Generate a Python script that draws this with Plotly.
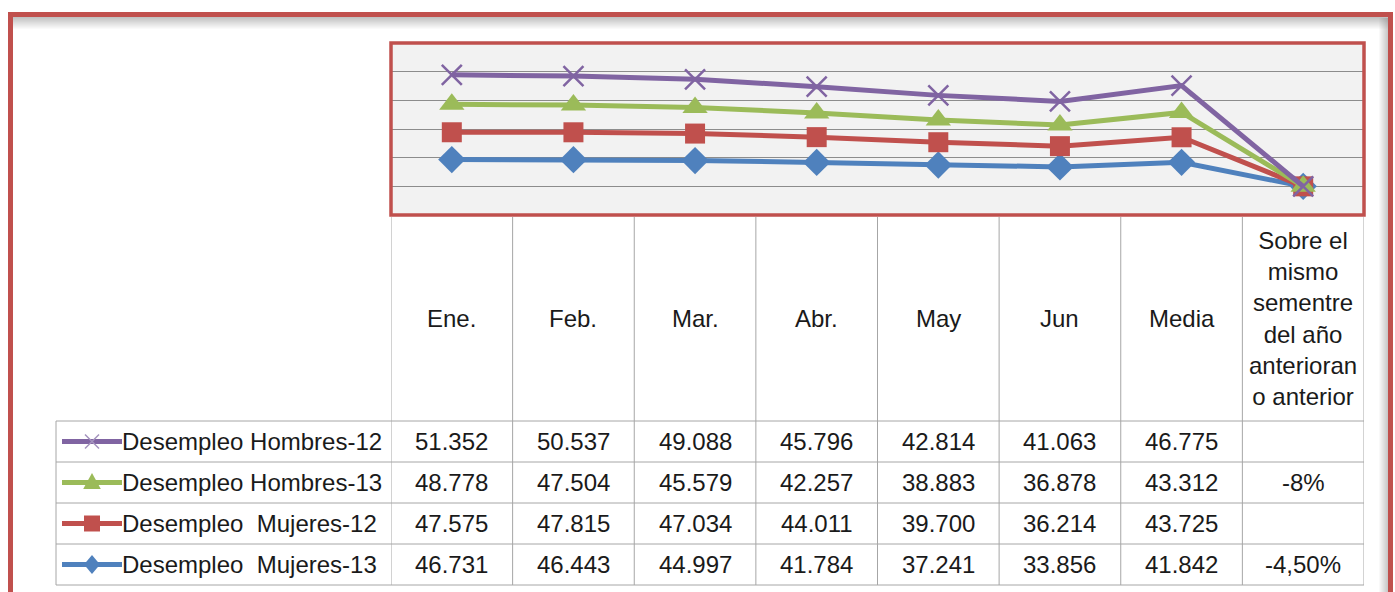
import plotly.graph_objects as go

# ---------------- data ----------------
categorias = ["Ene.", "Feb.", "Mar.", "Abr.", "May", "Jun", "Media",
              "Sobre el<br>mismo<br>sementre<br>del año<br>anterioran<br>o anterior"]
series = ["Desempleo Hombres-12", "Desempleo Hombres-13",
          "Desempleo  Mujeres-12", "Desempleo  Mujeres-13"]
hombres_12 = [51352, 50537, 49088, 45796, 42814, 41063, 46775]
hombres_13 = [48778, 47504, 45579, 42257, 38883, 36878, 43312]
mujeres_12 = [47575, 47815, 47034, 44011, 39700, 36214, 43725]
mujeres_13 = [46731, 46443, 44997, 41784, 37241, 33856, 41842]
variacion = [None, -0.08, None, -0.045]          # last column (fraction)
variacion_txt = ["", "-8%", "", "-4,50%"]

colores = ["#8064A2", "#9BBB59", "#C0504D", "#4F81BD"]
simbolos = ["x-thin", "triangle-up", "square", "diamond"]
tamanos = [20, 22, 20, 21]

valores = [hombres_12, hombres_13, mujeres_12, mujeres_13]

W, H = 1395, 592
def py(p):
    return 1 - p / H
def px(p):
    return p / W

fig = go.Figure()

# stacked lines: bottom series first
for i in [3, 2, 1, 0]:
    ys = valores[i] + [0 if variacion[i] is None else variacion[i]]
    fig.add_trace(go.Scatter(
        x=categorias, y=ys, name=series[i], mode="lines+markers",
        stackgroup="one", fill="none",
        line=dict(color=colores[i], width=5),
        marker=dict(symbol=simbolos[i], size=tamanos[i], color=colores[i],
                    line=dict(color=colores[i], width=2.5 if i == 0 else 0)),
        showlegend=False, hoverinfo="skip"))

PLOT_L, PLOT_R, PLOT_T, PLOT_B = 391, 1364, 43, 215
fig.update_layout(
    width=W, height=H, margin=dict(l=0, r=0, t=0, b=0),
    paper_bgcolor="white", plot_bgcolor="#F2F2F2",
    showlegend=False,
    xaxis=dict(domain=[px(PLOT_L), px(PLOT_R)], type="category",
               range=[-0.5, 7.5], showticklabels=False, showgrid=False,
               zeroline=False, showline=False, ticks=""),
    yaxis=dict(domain=[py(PLOT_B), py(PLOT_T)], range=[-50000, 250000],
               dtick=50000, tick0=0, showticklabels=False, showgrid=True,
               gridcolor="#8C8C8C", gridwidth=1, zeroline=True,
               zerolinecolor="#8C8C8C", zerolinewidth=1, showline=False, ticks=""),
    font=dict(family="Liberation Sans, Arial, sans-serif", color="#1A1A1A"),
)

shapes = []
annots = []
gris = "#A6A6A6"

# table geometry
TAB_TOP = 217
ROWS = [421, 462, 503, 544, 585]
LEFT = 56

# vertical column lines (on category axis)
for k in range(len(categorias) + 1):
    shapes.append(dict(type="line", xref="x", yref="paper",
                       x0=k - 0.5, x1=k - 0.5, y0=py(TAB_TOP), y1=py(ROWS[-1]),
                       line=dict(color=gris, width=1)))
# left legend column vertical
shapes.append(dict(type="line", xref="paper", yref="paper",
                   x0=px(LEFT), x1=px(LEFT), y0=py(ROWS[0]), y1=py(ROWS[-1]),
                   line=dict(color=gris, width=1)))
# horizontal rows
for r in ROWS:
    shapes.append(dict(type="line", xref="paper", yref="paper",
                       x0=px(LEFT), x1=px(PLOT_R), y0=py(r), y1=py(r),
                       line=dict(color=gris, width=1)))

# plot area red border
shapes.append(dict(type="rect", xref="x domain", yref="y domain",
                   x0=0, x1=1, y0=0, y1=1,
                   line=dict(color="#C0504D", width=3.5)))

# outer frame shadow
for j in range(12):
    a = 0.45 * (1 - j / 12)
    shapes.append(dict(type="rect", xref="paper", yref="paper",
                       x0=px(13), x1=px(1388), y0=py(17 + j), y1=py(18 + j),
                       line=dict(width=0), fillcolor=f"rgba(120,120,120,{a:.3f})"))
for j in range(9):
    a = 0.40 * (1 - j / 9)
    shapes.append(dict(type="rect", xref="paper", yref="paper",
                       x0=px(1387 - j), x1=px(1388 - j), y0=py(18), y1=py(H),
                       line=dict(width=0), fillcolor=f"rgba(120,120,120,{a:.3f})"))
# outer frame red
shapes.append(dict(type="rect", xref="paper", yref="paper",
                   x0=px(8), x1=px(1393), y0=py(12), y1=py(17),
                   line=dict(width=0), fillcolor="#C0504D"))
shapes.append(dict(type="rect", xref="paper", yref="paper",
                   x0=px(8), x1=px(13), y0=py(12), y1=py(H),
                   line=dict(width=0), fillcolor="#C0504D"))
shapes.append(dict(type="rect", xref="paper", yref="paper",
                   x0=px(1388), x1=px(1393), y0=py(12), y1=py(H),
                   line=dict(width=0), fillcolor="#C0504D"))


def key_path(sym, cx, cy, r):
    """legend key glyph as an SVG path in paper coords (pixel centre cx, cy)."""
    if sym == "square":
        pts = [(cx - r, cy - r), (cx + r, cy - r), (cx + r, cy + r), (cx - r, cy + r)]
    elif sym == "diamond":
        pts = [(cx, cy - r * 1.2), (cx + r, cy), (cx, cy + r * 1.2), (cx - r, cy)]
    elif sym == "triangle-up":
        pts = [(cx, cy - r * 1.2), (cx + r * 1.1, cy + r * 0.8), (cx - r * 1.1, cy + r * 0.8)]
    else:
        return ("M {:.5f} {:.5f} L {:.5f} {:.5f} M {:.5f} {:.5f} L {:.5f} {:.5f}".format(
            px(cx - r), py(cy - r), px(cx + r), py(cy + r),
            px(cx - r), py(cy + r), px(cx + r), py(cy - r)))
    d = "M " + " L ".join(f"{px(a):.5f} {py(b):.5f}" for a, b in pts) + " Z"
    return d


FS = 24
# header labels
for c in categorias:
    annots.append(dict(xref="x", yref="paper", x=c, y=py(318),
                       text=c, showarrow=False, xanchor="center", yanchor="middle",
                       font=dict(size=FS)))

# data rows
for r_i in range(4):
    ym = (ROWS[r_i] + ROWS[r_i + 1]) / 2
    yc = py(ym)
    vals = [f"{v:,}".replace(",", ".") for v in valores[r_i]] + [variacion_txt[r_i]]
    for c, t in zip(categorias, vals):
        annots.append(dict(xref="x", yref="paper", x=c, y=yc, text=t,
                           showarrow=False, xanchor="center", yanchor="middle",
                           font=dict(size=FS)))
    annots.append(dict(xref="paper", yref="paper", x=px(120), y=yc,
                       text=series[r_i].replace("  ", "&nbsp; "), showarrow=False,
                       xanchor="left", yanchor="middle", font=dict(size=FS)))
    # legend key
    shapes.append(dict(type="line", xref="paper", yref="paper",
                       x0=px(62), x1=px(122), y0=py(ym), y1=py(ym),
                       line=dict(color=colores[r_i], width=5)))
    sym = simbolos[r_i]
    if sym == "x-thin":
        shapes.append(dict(type="path", xref="paper", yref="paper",
                           path=key_path(sym, 92, ym, 7),
                           line=dict(color="#A493BE", width=1.5)))
    else:
        shapes.append(dict(type="path", xref="paper", yref="paper",
                           path=key_path(sym, 92, ym, 8),
                           line=dict(width=0), fillcolor=colores[r_i]))

fig.update_layout(shapes=shapes, annotations=annots)
fig.write_html("out.html", config={"displayModeBar": False},
               post_script="document.body.style.margin='0px';document.body.style.overflow='hidden';")
